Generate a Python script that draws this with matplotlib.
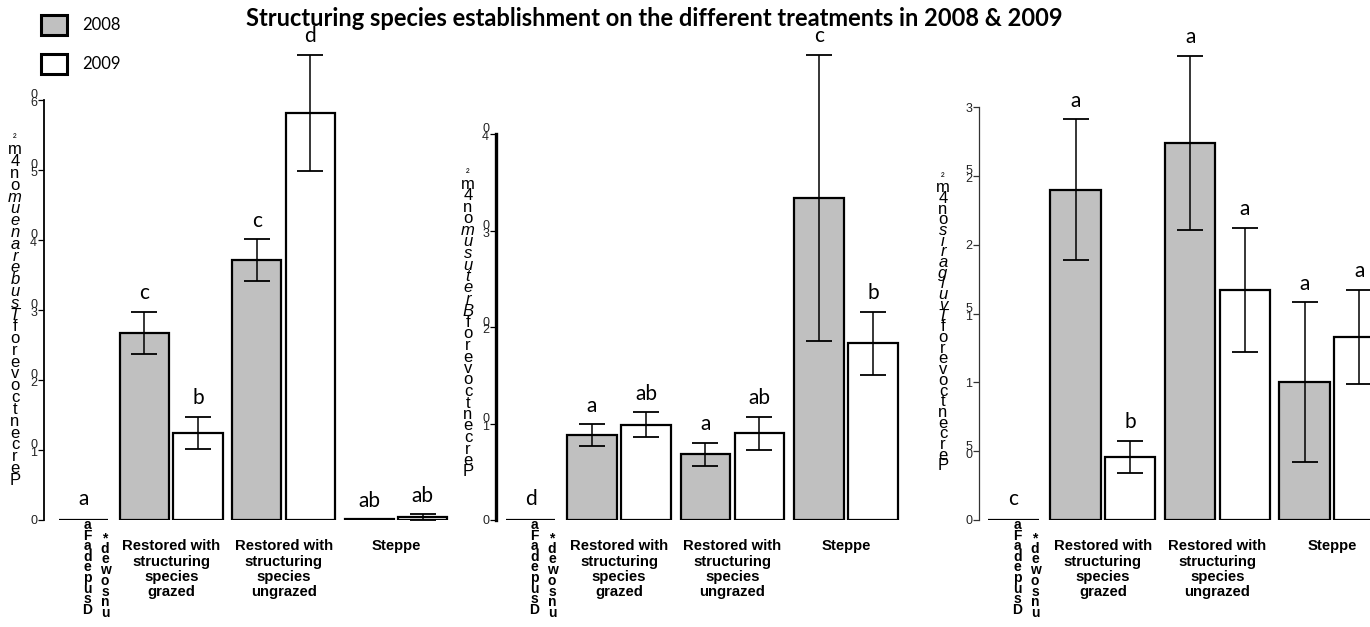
import matplotlib
matplotlib.use("Agg")
import matplotlib.pyplot as plt
from matplotlib.patches import Rectangle

W, H = 1370, 627

# ---- data ----
years = ["2008", "2009"]
treatments = ["Restored with\nstructuring\nspecies\ngrazed",
              "Restored with\nstructuring\nspecies\nungrazed",
              "Steppe"]
control_cols = ["aFadepusD", "*dewosnu"]   # garbled first-group label, top to bottom

# T. subterraneum
p1_ctrl, p1_ctrl_letter = 0.0, "a"
p1_2008 = [26.7, 37.1, 0.1]
p1_2008_err = [3.0, 3.0, 0.0]
p1_2009 = [12.4, 58.1, 0.4]
p1_2009_err = [2.3, 8.3, 0.4]
p1_let08 = ["c", "c", "ab"]
p1_let09 = ["b", "d", "ab"]
p1_ticks = [0, 10, 20, 30, 40, 50, 60]

# B. retusum
p2_ctrl, p2_ctrl_letter = 0.0, "d"
p2_2008 = [8.8, 6.8, 33.4]
p2_2008_err = [1.1, 1.2, 14.8]
p2_2009 = [9.85, 9.0, 18.3]
p2_2009_err = [1.3, 1.7, 3.3]
p2_let08 = ["a", "a", "c"]
p2_let09 = ["ab", "ab", "b"]
p2_ticks = [0, 10, 20, 30, 40]

# T. vulgaris
p3_ctrl, p3_ctrl_letter = 0.0, "c"
p3_2008 = [2.40, 2.74, 1.0]
p3_2008_err = [0.51, 0.63, 0.58]
p3_2009 = [0.46, 1.67, 1.33]
p3_2009_err = [0.115, 0.45, 0.34]
p3_let08 = ["a", "a", "a"]
p3_let09 = ["b", "a", "a"]
p3_ticks = [0, 0.5, 1, 1.5, 2, 2.5, 3]

# y labels, bottom-to-top parts (normal, italic, normal)
p1_ylab = ["Percent cover of", "T suberaneum", "on 4 m²"]
p2_ylab = ["Percent cover of", "B retusum", "on 4 m²"]
p3_ylab = ["Percent cover of", "T vulgaris", "on 4 m²"]

GREY = "#c0c0c0"

fig = plt.figure(figsize=(W / 100, H / 100), dpi=100)


def fx(px):
    return px / W


def fy(py):
    return 1 - py / H


def stack(x_px, y_top_px, chars, step, **kw):
    for i, (c, style) in enumerate(chars):
        size = kw.get("size", 11)
        if c == "²":
            size = size * 0.65
        fig.text(fx(x_px), fy(y_top_px + i * step), c, ha="center", va="center",
                 style=style, size=size, family=kw.get("family", "Liberation Sans"),
                 weight=kw.get("weight", "normal"))


def tick_lab(v):
    s = f"{v:g}".replace(".", "")
    return "\n".join(reversed(s))


# layout per panel: spine px, first-bar centre px, px per x unit, right px, top tick px
panels = [
    dict(spine=44, c0=83.5, unit=53.0, right=452, tick_px=100, spw=1.3, spc="black",
         ctrl=p1_ctrl, cl=p1_ctrl_letter, m8=p1_2008, e8=p1_2008_err, m9=p1_2009, e9=p1_2009_err,
         l8=p1_let08, l9=p1_let09, ticks=p1_ticks, ylab=p1_ylab, ylx=15, yly=138, yls=11.8),
    dict(spine=496, c0=530.5, unit=53.5, right=900, tick_px=134, spw=2.4, spc="black",
         ctrl=p2_ctrl, cl=p2_ctrl_letter, m8=p2_2008, e8=p2_2008_err, m9=p2_2009, e9=p2_2009_err,
         l8=p2_let08, l9=p2_let09, ticks=p2_ticks, ylab=p2_ylab, ylx=468, yly=173, yls=11.5),
    dict(spine=979, c0=1013.5, unit=54.0, right=1370, tick_px=107, spw=0.9, spc="#333333",
         ctrl=p3_ctrl, cl=p3_ctrl_letter, m8=p3_2008, e8=p3_2008_err, m9=p3_2009, e9=p3_2009_err,
         l8=p3_let08, l9=p3_let09, ticks=p3_ticks, ylab=p3_ylab, ylx=943, yly=177, yls=10.7),
]

bottom_px, top_px = 520, 30
bw = 0.93
gx = [1.15 + 2.12 * k for k in range(3)]
wx = [g + 1.01 for g in gx]
lab_off = 13.5  # points above error bar

for p in panels:
    ax = fig.add_axes([fx(p["spine"]), fy(bottom_px), fx(p["right"] - p["spine"]),
                       (bottom_px - top_px) / H])
    x_lo = (p["spine"] - p["c0"]) / p["unit"]
    x_hi = (p["right"] - p["c0"]) / p["unit"]
    ax.set_xlim(x_lo, x_hi)
    ymax = p["ticks"][-1]
    ax.set_ylim(0, ymax * (bottom_px - top_px) / (bottom_px - p["tick_px"]))
    ax.patch.set_visible(False)
    for s in ["top", "right", "bottom"]:
        ax.spines[s].set_visible(False)
    ax.spines["left"].set_bounds(0, ymax)
    ax.spines["left"].set_linewidth(p["spw"])
    ax.spines["left"].set_color(p["spc"])
    ax.set_xticks([])
    ax.set_yticks(p["ticks"], [tick_lab(t) for t in p["ticks"]])
    ax.tick_params(axis="y", direction="out", length=4, width=0.9, pad=1,
                   labelsize=9, labelcolor="#222222", color=p["spc"])
    for t in ax.get_yticklabels():
        t.set_linespacing(0.55)
        t.set_family("Liberation Sans")

    # control bar
    ax.bar(0, p["ctrl"], width=bw, color=GREY, edgecolor="black", linewidth=1.6)
    ax.annotate(p["cl"], (0, p["ctrl"]), xytext=(0, 15), textcoords="offset points",
                ha="center", va="center", fontsize=15, family="Lato")
    ax.bar(gx, p["m8"], width=bw, color=GREY, edgecolor="black", linewidth=1.6)
    ax.bar(wx, p["m9"], width=bw, color="white", edgecolor="black", linewidth=1.6)
    for xs, ms, es, ls in [(gx, p["m8"], p["e8"], p["l8"]), (wx, p["m9"], p["e9"], p["l9"])]:
        for x, m, e, l in zip(xs, ms, es, ls):
            if e > 0:
                ax.errorbar(x, m, yerr=e, fmt="none", ecolor="black", elinewidth=1.1,
                            capsize=9.5, capthick=1.3, clip_on=False)
            ax.annotate(l, (x, m + e), xytext=(0, lab_off), textcoords="offset points",
                        ha="center", va="center", fontsize=15, family="Lato",
                        annotation_clip=False)

    # treatment labels
    for k, name in enumerate(treatments):
        cx = (gx[k] + wx[k]) / 2
        ax.annotate(name, (cx, 0), xytext=(0, -14), textcoords="offset points",
                    ha="center", va="top", fontsize=10.7, weight="bold",
                    family="Liberation Sans", linespacing=1.1, annotation_clip=False)

    # garbled control label columns
    stack(p["c0"] + 4, 525, [(c, "normal") for c in control_cols[0]], 10.6,
          size=10, weight="bold")
    stack(p["c0"] + 21.5, 538, [(c, "normal") for c in control_cols[1]], 10.7,
          size=10, weight="bold")

    # garbled y label
    chars = []
    for part, style in zip(p["ylab"], ["normal", "italic", "normal"]):
        chars += [(c, style) for c in part if c != " "]
    chars = chars[::-1]
    stack(p["ylx"], p["yly"], chars, p["yls"], size=12)

# title
fig.text(fx(654), fy(18), "Structuring species establishment on the different treatments in 2008 & 2009",
         ha="center", va="center", fontsize=17, weight="bold", family="Lato")

# legend
for (y0, col), yr in zip([(15, GREY), (54, "white")], years):
    fig.add_artist(Rectangle((fx(41), fy(y0 + 20)), fx(26), 20 / H, transform=fig.transFigure,
                             facecolor=col, edgecolor="black", linewidth=2.2))
    fig.text(fx(82), fy(y0 + 10), yr, ha="left", va="center", fontsize=12, family="Lato")

fig.savefig("out.png", dpi=100)
